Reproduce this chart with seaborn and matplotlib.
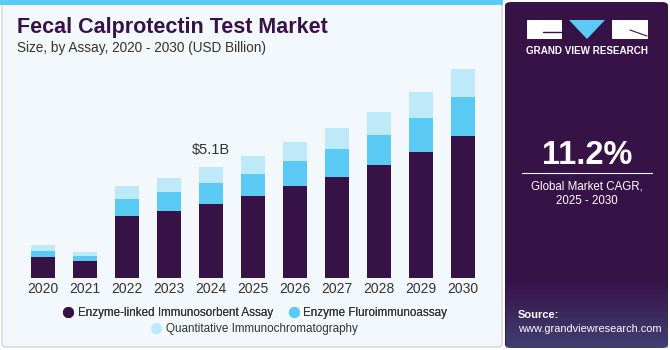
import matplotlib
matplotlib.use("Agg")
import matplotlib.pyplot as plt
import matplotlib.patches as mpatches
from matplotlib.lines import Line2D
import seaborn as sns
import pandas as pd
import numpy as np

years = ["2020", "2021", "2022", "2023", "2024", "2025", "2026", "2027", "2028", "2029", "2030"]
elisa = [0.98, 0.78, 2.86, 3.10, 3.42, 3.78, 4.24, 4.65, 5.19, 5.79, 6.54]
fluro = [0.28, 0.23, 0.78, 0.86, 0.95, 1.03, 1.15, 1.29, 1.41, 1.58, 1.80]
quant = [0.25, 0.18, 0.60, 0.66, 0.72, 0.80, 0.89, 0.95, 1.06, 1.18, 1.28]
series_names = ["Enzyme-linked Immunosorbent Assay", "Enzyme Fluroimmunoassay",
                "Quantitative Immunochromatography"]
colors = ["#371247", "#5BCBF5", "#BEE9F9"]
annot_year = "2024"
annot_text = "$5.1B"

sns.set_theme(style="white")
plt.rcParams['font.family'] = ['Liberation Sans', 'DejaVu Sans']

fig = plt.figure(figsize=(6.7, 3.5), dpi=100)
fig.patch.set_facecolor("white")

W, H = 670.0, 350.0
def fx(px): return px / W
def fy(py): return 1 - py / H

# left panel background
bg = mpatches.FancyBboxPatch((fx(2), fy(347)), fx(500), fy(3) - fy(347),
                             boxstyle="round,pad=0,rounding_size=0.008",
                             transform=fig.transFigure, facecolor="#F3F8FC",
                             edgecolor="#CCCCCC", linewidth=0.8, zorder=-2)
fig.patches.append(bg)
stripe = mpatches.Rectangle((0, fy(5)), fx(503), fy(0) - fy(5), transform=fig.transFigure,
                            facecolor="#5BCBF5", edgecolor="none", zorder=-1)
fig.patches.append(stripe)

# right panel
rp = mpatches.FancyBboxPatch((fx(505), fy(348)), fx(163), fy(2) - fy(348),
                             boxstyle="round,pad=0,rounding_size=0.01",
                             transform=fig.transFigure, facecolor="#371247",
                             edgecolor="none", zorder=-2)
fig.patches.append(rp)
for i in range(40):
    yy = 280 + i * 1.7
    a = i / 40.0
    fig.patches.append(mpatches.Rectangle((fx(506), fy(yy + 1.7)), fx(162), fy(yy) - fy(yy + 1.7),
                       transform=fig.transFigure, facecolor="#4A6FA0", alpha=0.5 * a,
                       edgecolor="none", zorder=-1))

# logo
for (x0, x1) in [(527, 562), (612, 648)]:
    fig.patches.append(mpatches.Rectangle((fx(x0), fy(39)), fx(x1 - x0), fy(20) - fy(39),
                       transform=fig.transFigure, facecolor="white", edgecolor="none", zorder=2))
tri = mpatches.Polygon([[fx(569), fy(20)], [fx(605), fy(20)], [fx(587), fy(39)]], closed=True,
                       transform=fig.transFigure, facecolor="#5BCBF5", edgecolor="none", zorder=2)
fig.patches.append(tri)
fig.add_artist(Line2D([fx(543), fx(562)], [fy(32), fy(32)], transform=fig.transFigure,
                      color="#371247", lw=1, zorder=3))
fig.add_artist(Line2D([fx(630), fx(647)], [fy(30), fy(36)], transform=fig.transFigure,
                      color="#371247", lw=0.8, zorder=3))
fig.text(fx(587.5), fy(51), "GRAND VIEW RESEARCH", color="white", fontsize=7.1, fontweight="bold",
         ha="center", va="center")

fig.text(fx(587), fy(156), "11.2%", color="white", fontsize=23.5, fontweight="bold",
         ha="center", va="center")
fig.add_artist(Line2D([fx(522), fx(652)], [fy(173), fy(173)], transform=fig.transFigure,
                      color="white", lw=0.8))
fig.text(fx(587), fy(186), "Global Market CAGR,", color="white", fontsize=8.3,
         ha="center", va="center")
fig.text(fx(587), fy(201), "2025 - 2030", color="white", fontsize=8.3,
         ha="center", va="center")
fig.text(fx(518), fy(315), "Source:", color="white", fontsize=8, fontweight="bold",
         ha="left", va="center")
fig.text(fx(518), fy(329), "www.grandviewresearch.com", color="white", fontsize=7.9,
         ha="left", va="center")

# titles
fig.text(fx(17), fy(28), "Fecal Calprotectin Test Market", color="#371247", fontsize=15.5,
         fontweight="heavy", ha="left", va="center")
fig.text(fx(17), fy(48), "Size, by Assay, 2020 - 2030 (USD Billion)", color="#333333",
         fontsize=9.8, ha="left", va="center")

# chart
ax = fig.add_axes([fx(22), fy(278), fx(462), fy(60) - fy(278)])
ax.set_zorder(1)
ax.set_facecolor("none")
df = pd.DataFrame({"year": years, "e": elisa, "f": fluro, "q": quant})
df["c1"] = df["e"]
df["c2"] = df["e"] + df["f"]
df["c3"] = df["c2"] + df["q"]
for col, c in [("c3", colors[2]), ("c2", colors[1]), ("c1", colors[0])]:
    sns.barplot(data=df, x="year", y=col, color=c, width=0.57, ax=ax, saturation=1,
                edgecolor="none", linewidth=0)
ax.set_xlim(-0.5, 10.5)
ax.set_ylim(0, 10.04)
ax.set_xlabel("")
ax.set_ylabel("")
ax.set_yticks([])
for s in ["left", "right", "top", "bottom"]:
    ax.spines[s].set_visible(False)
ax.tick_params(axis="x", length=0, pad=3, labelsize=10, labelcolor="#333333")
idx = years.index(annot_year)
ax.text(idx, df["c3"][idx] + 0.5, annot_text, ha="center", va="bottom", fontsize=10.5,
        color="#333333")

# legend
handles = [Line2D([0], [0], marker="o", color="none", markerfacecolor=c, markeredgecolor="none",
                  markersize=8) for c in colors]
leg1 = fig.legend(handles[:2], series_names[:2], loc="center", bbox_to_anchor=(fx(255), fy(313)),
                  ncol=2, frameon=False, fontsize=8.4, handletextpad=0.3, columnspacing=1.3,
                  handlelength=1.0)
for t in leg1.get_texts():
    t.set_color("#333333")
leg2 = fig.legend(handles[2:], series_names[2:], loc="center", bbox_to_anchor=(fx(254), fy(329)),
                  ncol=1, frameon=False, fontsize=8.4, handletextpad=0.3, handlelength=1.0)
for t in leg2.get_texts():
    t.set_color("#333333")
fig.add_artist(leg1)

fig.savefig("out.png", dpi=100, facecolor=fig.get_facecolor())
